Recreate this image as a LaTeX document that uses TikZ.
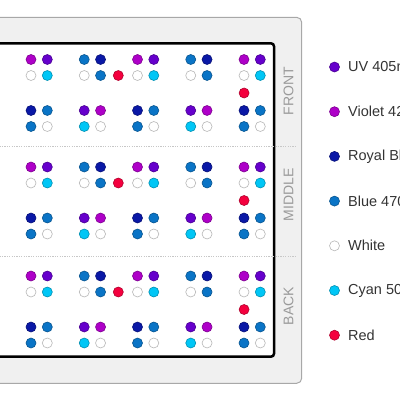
\documentclass[tikz,border=0pt]{standalone}
\usepackage{fontspec}
\setmainfont{Liberation Sans}
\definecolor{cUV}{HTML}{6600CC}
\definecolor{cVi}{HTML}{AE00C8}
\definecolor{cRo}{HTML}{0A18A6}
\definecolor{cBl}{HTML}{0A74C6}
\definecolor{cWh}{HTML}{FFFFFF}
\definecolor{cCy}{HTML}{00C6F6}
\definecolor{cRe}{HTML}{F4003E}
\definecolor{panel}{HTML}{F0F0F0}
\definecolor{panelline}{HTML}{A8A8A8}
\definecolor{labelgrey}{HTML}{9A9A9A}
\definecolor{legtext}{HTML}{333333}
\newcommand{\ledcluster}[7]{%
  \node[led=#4] (#1-1) at (#2,#3) {};
  \node[led=#5] (#1-2) at ({#2+16.3},#3) {};
  \node[led=#6] (#1-3) at (#2,{#3+16}) {};
  \node[led=#7] (#1-4) at ({#2+16.3},{#3+16}) {};}
\begin{document}
\begin{tikzpicture}[x=1pt,y=-1pt,
  led/.style={circle, inner sep=0pt, minimum size=10pt, fill=#1, draw=#1!72!black, line width=0.6pt},
  legled/.style={circle, inner sep=0pt, minimum size=10pt, fill=#1, draw=#1!72!black, line width=0.6pt},
  legtxt/.style={anchor=west, inner sep=0pt, text=legtext, font=\fontsize{14.5}{16}\selectfont},
  sectlabel/.style={rotate=90, text=labelgrey, font=\fontsize{14}{16}\selectfont, inner sep=0pt},
  sep/.style={draw=black!22, line width=0.8pt, dash pattern=on 1.2pt off 1.2pt}]
\useasboundingbox (0,0) rectangle (400,400);
\clip (0,0) rectangle (400,400);
% panels
\draw[fill=panel, draw=panelline, line width=1pt, rounded corners=5pt] (-20,17.3) rectangle (301.7,383.3);
\draw[fill=white, draw=black, line width=2.5pt, rounded corners=3pt] (-20,43.3) rectangle (274,356.7);
% separators
\coordinate (s1a) at (-10,146.7); \coordinate (s1b) at (297,146.7);
\coordinate (s2a) at (-10,256.7); \coordinate (s2b) at (297,256.7);
\draw[sep] (s1a) -- (s1b);
\draw[sep] (s2a) -- (s2b);
% section labels
\node[sectlabel] (lfront) at (288.5,91) {FRONT};
\node[sectlabel] (lmiddle) at (288.5,195) {MIDDLE};
\node[sectlabel] (lback) at (288.5,306) {BACK};
% LEDs
\foreach \s/\off in {f/0, m/107.5, b/216.5} {
  \foreach \c in {0,...,4} {
    \pgfmathsetmacro\xx{31+53.25*\c}
    \pgfmathsetmacro\ya{59.5+\off}
    \pgfmathsetmacro\yb{110.5+\off}
    \ifodd\c
      \ledcluster{\s-a\c}{\xx}{\ya}{cBl}{cRo}{cWh}{cBl}
      \ledcluster{\s-b\c}{\xx}{\yb}{cUV}{cVi}{cCy}{cWh}
    \else
      \ledcluster{\s-a\c}{\xx}{\ya}{cVi}{cUV}{cWh}{cCy}
      \ledcluster{\s-b\c}{\xx}{\yb}{cRo}{cBl}{cBl}{cWh}
    \fi
  }
  \node[led=cRe] (\s-r1) at (118.3,{75.5+\off}) {};
  \node[led=cRe] (\s-r2) at (244.1,{93+\off}) {};
}
% legend
\foreach \i/\col/\txt in {0/cUV/UV 405nm, 1/cVi/Violet 420nm, 2/cRo/Royal Blue 450nm, 3/cBl/Blue 470nm, 4/cWh/White, 5/cCy/Cyan 505nm, 6/cRe/Red} {
  \node[legled=\col] (leg\i) at (334.5,{67+44.7*\i}) {};
  \node[legtxt] (legt\i) at (348,{67+44.7*\i}) {\txt};
}
\end{tikzpicture}
\end{document}
